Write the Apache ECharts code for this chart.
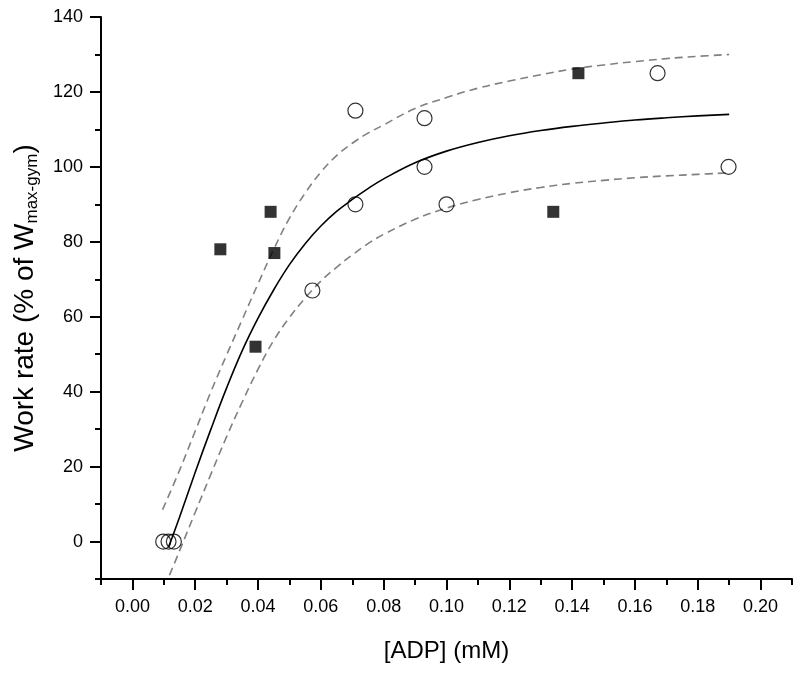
<!DOCTYPE html>
<html>
<head>
<meta charset="utf-8">
<script src="https://cdn.jsdelivr.net/npm/echarts@6/dist/echarts.min.js"></script>
<style>
html,body{margin:0;padding:0;background:#fff;}
#c{width:800px;height:674px;}
</style>
</head>
<body>
<div id="c"></div>
<script>
// Open circles
const circleX = [0.0098, 0.0115, 0.0132, 0.0573, 0.071, 0.071, 0.093, 0.093, 0.100, 0.1672, 0.1898];
const circleY = [0, 0, 0, 67, 115, 90, 113, 100, 90, 125, 100];
// Filled squares
const squareX = [0.028, 0.0392, 0.044, 0.0452, 0.134, 0.142];
const squareY = [78, 52, 88, 77, 88, 125];
// Fitted curve (solid)
const fitX = [0.0115, 0.015, 0.020, 0.025, 0.030, 0.035, 0.040, 0.045, 0.050, 0.055, 0.060, 0.065, 0.070, 0.075, 0.080, 0.090, 0.100, 0.110, 0.120, 0.130, 0.140, 0.150, 0.160, 0.170, 0.180, 0.190];
const fitY = [-1.5, 6.5, 18.5, 30, 41, 51, 59.6, 67.2, 73.9, 79.5, 84.2, 88.1, 91.3, 94.2, 96.8, 101.1, 104.2, 106.5, 108.3, 109.7, 110.8, 111.7, 112.5, 113.1, 113.6, 114];
// Upper confidence band (dashed)
const upX = [0.0096, 0.015, 0.020, 0.025, 0.030, 0.035, 0.040, 0.045, 0.050, 0.055, 0.060, 0.065, 0.070, 0.075, 0.080, 0.090, 0.100, 0.110, 0.120, 0.130, 0.140, 0.150, 0.160, 0.170, 0.180, 0.190];
const upY = [8.5, 19, 29.5, 40, 49.8, 59.3, 68.8, 78, 86.3, 93, 98.6, 103, 106.3, 109, 111.2, 115.6, 118.5, 121, 122.9, 124.6, 126.1, 127.2, 128.1, 128.9, 129.5, 130];
// Lower confidence band (dashed)
const loX = [0.0118, 0.015, 0.020, 0.025, 0.030, 0.035, 0.040, 0.045, 0.050, 0.055, 0.060, 0.065, 0.070, 0.075, 0.080, 0.090, 0.100, 0.110, 0.120, 0.130, 0.140, 0.150, 0.160, 0.170, 0.180, 0.190];
const loY = [-9, -2.5, 7.8, 18, 28, 37.3, 46, 53.7, 59.8, 65, 69.5, 73.2, 76.5, 79.5, 82, 86, 89, 91.3, 93.1, 94.5, 95.6, 96.4, 97.1, 97.6, 98, 98.4];
// Tick labels
const xTicks = [0, 0.02, 0.04, 0.06, 0.08, 0.10, 0.12, 0.14, 0.16, 0.18, 0.20];
const yTicks = [0, 20, 40, 60, 80, 100, 120, 140];

const zip = (a, b) => a.map((v, i) => [v, b[i]]);
const FONT = '"Liberation Sans", Arial, sans-serif';

const chart = echarts.init(document.getElementById('c'), null, {renderer: 'canvas'});
chart.setOption({
  animation: false,
  backgroundColor: '#fff',
  grid: {left: 101, right: 8, top: 17, bottom: 95, containLabel: false},
  xAxis: [{
    type: 'value', min: -0.01, max: 0.21,
    axisLine: {show: true, onZero: false, lineStyle: {color: '#000', width: 2}},
    axisTick: {show: true, customValues: xTicks, length: 11, inside: false, lineStyle: {color: '#000', width: 2}},
    axisLabel: {customValues: xTicks, formatter: v => v.toFixed(2), fontFamily: FONT, fontSize: 18, color: '#000', margin: 19},
    splitLine: {show: false},
    name: '[ADP] (mM)', nameLocation: 'middle', nameGap: 60,
    nameTextStyle: {fontFamily: FONT, fontSize: 24, color: '#000'}
  }, {
    type: 'value', min: -0.01, max: 0.21, interval: 0.01, position: 'bottom',
    axisLine: {show: false, onZero: false},
    axisTick: {show: true, length: 6, lineStyle: {color: '#000', width: 2}},
    axisLabel: {show: false}, splitLine: {show: false}
  }],
  yAxis: [{
    type: 'value', min: -10, max: 140,
    axisLine: {show: true, onZero: false, lineStyle: {color: '#000', width: 2}},
    axisTick: {show: true, customValues: yTicks, length: 11, lineStyle: {color: '#000', width: 2}},
    axisLabel: {customValues: yTicks, fontFamily: FONT, fontSize: 18, color: '#000', margin: 18},
    splitLine: {show: false},
    name: '{a|Work rate (% of W}{b|max-gym}{a|)}', nameLocation: 'middle', nameRotate: 90, nameGap: 60,
    nameTextStyle: {
      fontFamily: FONT, color: '#000',
      rich: {
        a: {fontFamily: FONT, fontSize: 28, color: '#000', lineHeight: 32},
        b: {fontFamily: FONT, fontSize: 17, color: '#000', lineHeight: 12, verticalAlign: 'bottom'}
      }
    }
  }, {
    type: 'value', min: -10, max: 140, interval: 10, position: 'left',
    axisLine: {show: false, onZero: false},
    axisTick: {show: true, length: 6, lineStyle: {color: '#000', width: 2}},
    axisLabel: {show: false}, splitLine: {show: false}
  }],
  series: [
    {type: 'line', data: zip(upX, upY), smooth: 0.4, showSymbol: false, symbol: 'none',
     lineStyle: {color: '#808080', width: 1.6, type: [8, 5]}, z: 2},
    {type: 'line', data: zip(loX, loY), smooth: 0.4, showSymbol: false, symbol: 'none',
     lineStyle: {color: '#808080', width: 1.6, type: [8, 5]}, z: 2},
    {type: 'line', data: zip(fitX, fitY), smooth: 0.4, showSymbol: false, symbol: 'none',
     lineStyle: {color: '#000', width: 1.6}, z: 3},
    {type: 'scatter', data: zip(circleX, circleY), symbol: 'circle', symbolSize: 15,
     itemStyle: {color: 'rgba(0,0,0,0)', borderColor: '#000', borderWidth: 1.2}, z: 4},
    {type: 'scatter', data: zip(squareX, squareY), symbol: 'rect', symbolSize: 12,
     itemStyle: {color: '#000'}, z: 4}
  ]
});
</script>
</body>
</html>
